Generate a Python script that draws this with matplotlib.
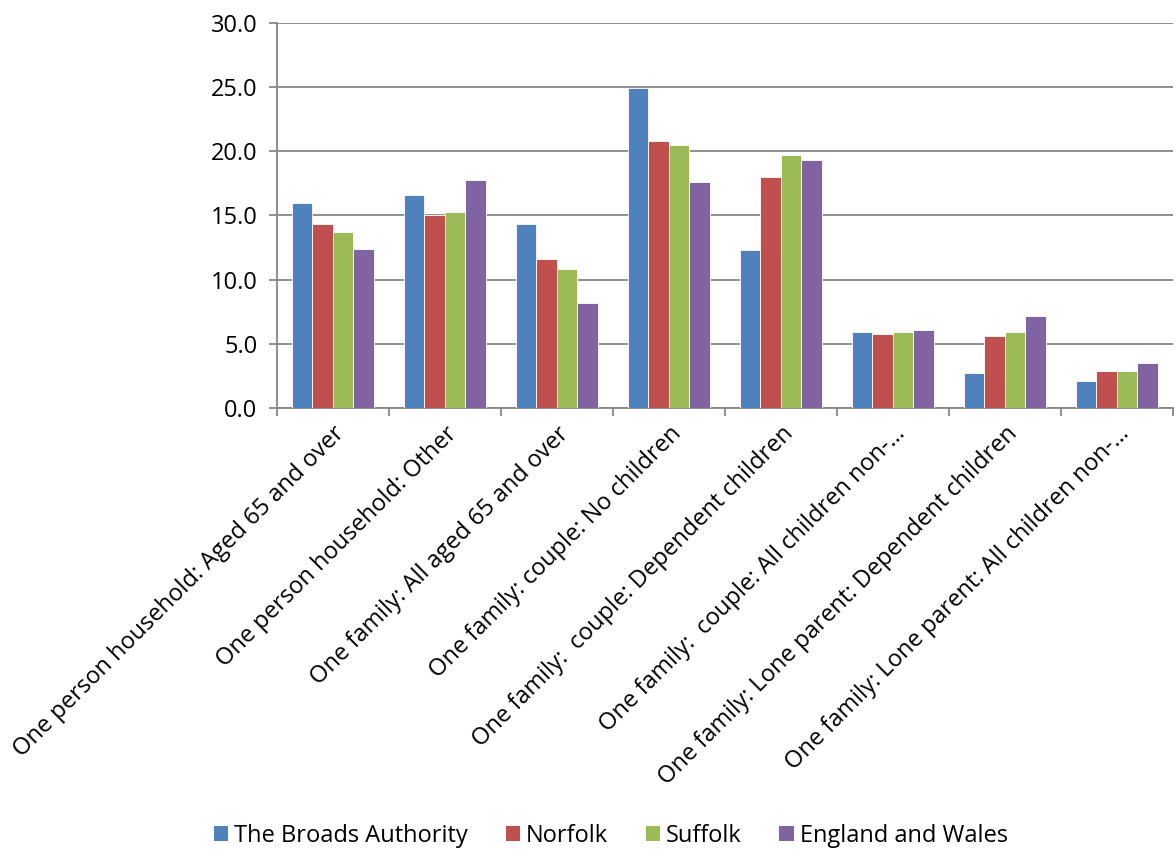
import numpy as np
import matplotlib
matplotlib.use("Agg")
import matplotlib.pyplot as plt
from matplotlib.patches import Patch

categories = [
    "One person household: Aged 65 and over",
    "One person household: Other",
    "One family: All aged 65 and over",
    "One family: couple: No children",
    "One family:  couple: Dependent children",
    "One family:  couple: All children non-\u2026",
    "One family: Lone parent: Dependent children",
    "One family: Lone parent: All children non-\u2026",
]
series_names = ["The Broads Authority", "Norfolk", "Suffolk", "England and Wales"]
broads = [16.0, 16.6, 14.3, 24.9, 12.3, 5.9, 2.7, 2.1]
norfolk = [14.3, 15.0, 11.6, 20.8, 18.0, 5.8, 5.6, 2.9]
suffolk = [13.7, 15.3, 10.8, 20.5, 19.7, 5.9, 5.9, 2.9]
england_wales = [12.4, 17.8, 8.2, 17.6, 19.3, 6.1, 7.2, 3.5]
colors = ["#4F81BD", "#C0504D", "#9BBB59", "#8064A2"]

plt.rcParams["font.family"] = ["Open Sans", "DejaVu Sans"]

fig = plt.figure(figsize=(11.75, 8.51), dpi=100)
ax = fig.add_axes([0.2357, 0.5206, 0.7625, 0.4524])

x = np.arange(len(categories))
w = 0.183
for i, (vals, c) in enumerate(zip([broads, norfolk, suffolk, england_wales], colors)):
    ax.bar(x + (i - 1.5) * w, vals, w, color=c, edgecolor="white", linewidth=0.6, zorder=3)

ax.set_xlim(-0.5, len(categories) - 0.5)
ax.set_ylim(0, 30)
ax.set_yticks(np.arange(0, 30.1, 5))
ax.set_yticklabels([f"{v:.1f}" for v in np.arange(0, 30.1, 5)], fontsize=17)
ax.yaxis.grid(True, color="#868686", linewidth=1.3, zorder=0)
ax.set_axisbelow(True)

ax.set_xticks(x)
ax.set_xticklabels(categories, rotation=45, ha="right", rotation_mode="anchor", fontsize=17)
ax.tick_params(axis="x", length=0, pad=10)
ax.set_xticks(np.arange(-0.5, len(categories)), minor=True)
ax.tick_params(axis="x", which="minor", length=6, color="#868686", width=1.3)
ax.tick_params(axis="y", length=6, color="#868686", width=1.3, pad=8)

for s in ["top", "right"]:
    ax.spines[s].set_visible(False)
for s in ["left", "bottom"]:
    ax.spines[s].set_color("#868686")
    ax.spines[s].set_linewidth(1.3)

handles = [Patch(facecolor=c, edgecolor="none") for c in colors]
fig.legend(handles, series_names, loc="center", bbox_to_anchor=(0.52, 0.018),
           ncol=4, frameon=False, fontsize=17, handlelength=0.6, handleheight=0.6,
           handletextpad=0.25, columnspacing=1.6)

fig.savefig("out.png", dpi=100)
